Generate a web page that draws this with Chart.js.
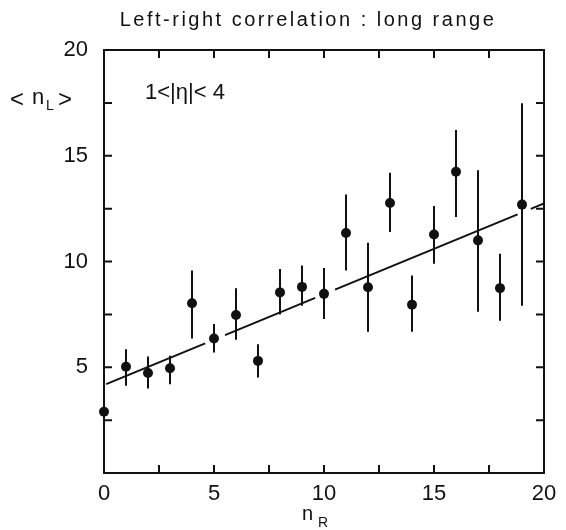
<!DOCTYPE html>
<html>
<head>
<meta charset="utf-8">
<script src="https://cdn.jsdelivr.net/npm/chart.js@4"></script>
<style>
  html, body { margin: 0; padding: 0; background: #fff; }
  #wrap { width: 566px; height: 530px; }
</style>
</head>
<body>
<div id="wrap"><canvas id="chart" width="566" height="530"></canvas></div>
<script>
// n_R bins and mean n_L with the ends of each error bar
const nR = [0, 1, 2, 3, 4, 5, 6, 7, 8, 9, 10, 11, 12, 13, 14, 15, 16, 17, 18, 19];
const meanNL = [2.9, 5.02, 4.73, 4.95, 8.03, 6.36, 7.47, 5.3, 8.54, 8.8, 8.47, 11.35, 8.78, 12.77, 7.96, 11.28, 14.24, 11.0, 8.74, 12.69];
const errTop = [3.41, 5.85, 5.51, 5.54, 9.57, 7.04, 8.74, 6.09, 9.65, 9.81, 9.69, 13.17, 10.89, 14.2, 9.34, 12.63, 16.22, 14.32, 10.37, 17.48];
const errBottom = [2.06, 4.12, 3.99, 4.2, 6.36, 5.7, 6.3, 4.51, 7.5, 7.91, 7.28, 9.57, 6.68, 11.4, 6.68, 9.89, 12.1, 7.63, 7.2, 7.91];

// straight-line fit, broken where it passes the markers (null = gap)
const fitX = [0.1, 4.6, 5.0, 5.5, 9.6, 10.0, 10.5, 18.8, 19.0, 19.4, 20];
const fitY = [4.2, 6.13, null, 6.52, 8.28, null, 8.67, 12.23, null, 12.49, 12.75];

const xTicks = [0, 5, 10, 15, 20];
const yTicks = [5, 10, 15, 20];

const INK = '#111';
const FONT = '"Liberation Sans", "DejaVu Sans", sans-serif';

const points = nR.map((x, i) => ({ x, y: meanNL[i] }));
const fit = fitX.map((x, i) => ({ x, y: fitY[i] }));

const frame = {
  id: 'frame',
  beforeDatasetsDraw(chart) {
    const { ctx, scales: { x, y } } = chart;
    ctx.save();
    ctx.strokeStyle = INK;
    ctx.lineWidth = 2;
    // error bars
    nR.forEach((n, i) => {
      const px = x.getPixelForValue(n);
      ctx.beginPath();
      ctx.moveTo(px, y.getPixelForValue(errTop[i]));
      ctx.lineTo(px, y.getPixelForValue(errBottom[i]));
      ctx.stroke();
    });
    ctx.restore();
  },
  afterDraw(chart) {
    const { ctx, chartArea: a, scales: { x, y } } = chart;
    ctx.save();
    ctx.strokeStyle = INK;
    ctx.lineWidth = 2;
    ctx.strokeRect(a.left, a.top, a.right - a.left, a.bottom - a.top);
    // inward ticks on all four sides, every 2.5
    const len = 8;
    ctx.beginPath();
    for (let v = 2.5; v < 20; v += 2.5) {
      const px = x.getPixelForValue(v);
      ctx.moveTo(px, a.bottom); ctx.lineTo(px, a.bottom - len);
      ctx.moveTo(px, a.top); ctx.lineTo(px, a.top + len);
      const py = y.getPixelForValue(v);
      ctx.moveTo(a.left, py); ctx.lineTo(a.left + len, py);
      ctx.moveTo(a.right, py); ctx.lineTo(a.right - len, py);
    }
    ctx.stroke();

    ctx.fillStyle = INK;
    ctx.textBaseline = 'middle';
    // title
    ctx.font = '20px ' + FONT;
    ctx.textAlign = 'center';
    ctx.letterSpacing = '2.5px';
    ctx.fillText('Left-right correlation : long range', 308, 20);
    ctx.letterSpacing = '0px';

    // y axis label <n_L>
    ctx.textAlign = 'left';
    ctx.font = '24px ' + FONT;
    ctx.fillText('<', 10, 100);
    ctx.font = '22px ' + FONT;
    ctx.fillText('n', 32, 98);
    ctx.font = '14px ' + FONT;
    ctx.fillText('L', 46, 106);
    ctx.font = '24px ' + FONT;
    ctx.fillText('>', 58, 100);

    // rapidity window
    ctx.font = '22px ' + FONT;
    ctx.fillText('1<|\u03b7|< 4', 145, 93);

    // x axis label n_R
    ctx.font = '20px ' + FONT;
    ctx.fillText('n', 302, 514);
    ctx.font = '14px ' + FONT;
    ctx.fillText('R', 318, 523);
    ctx.restore();
  }
};

new Chart(document.getElementById('chart'), {
  type: 'scatter',
  data: {
    datasets: [
      {
        data: points,
        pointRadius: 5,
        pointHoverRadius: 5,
        pointBackgroundColor: INK,
        pointBorderColor: INK,
        pointBorderWidth: 0,
        showLine: false,
        clip: false
      },
      {
        data: fit,
        showLine: true,
        spanGaps: false,
        borderColor: INK,
        borderWidth: 2,
        pointRadius: 0,
        tension: 0
      }
    ]
  },
  options: {
    responsive: false,
    animation: false,
    events: [],
    layout: { padding: { top: 50, right: 22, left: 0, bottom: 0 } },
    plugins: { legend: { display: false }, tooltip: { enabled: false }, title: { display: false } },
    scales: {
      x: {
        type: 'linear',
        min: 0, max: 20,
        afterFit(scale) { scale.height = 57; },
        afterBuildTicks(scale) { scale.ticks = xTicks.map(v => ({ value: v })); },
        grid: { display: false },
        border: { display: true, color: INK, width: 2 },
        ticks: {
          color: INK,
          padding: 0,
          maxRotation: 0,
          font: { family: FONT, size: 22 }
        }
      },
      y: {
        type: 'linear',
        min: 0, max: 20,
        afterFit(scale) { scale.width = 104; },
        afterBuildTicks(scale) { scale.ticks = yTicks.map(v => ({ value: v })); },
        grid: { display: false },
        border: { display: true, color: INK, width: 2 },
        ticks: {
          color: INK,
          padding: 8,
          font: { family: FONT, size: 22 }
        }
      }
    }
  },
  plugins: [frame]
});
</script>
</body>
</html>
